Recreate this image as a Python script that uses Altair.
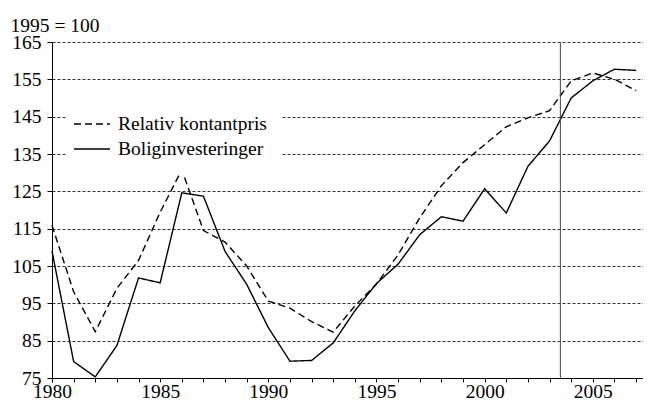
import altair as alt
import pandas as pd

years = list(range(1980, 2008))
kontantpris = [115.9, 98.1, 87.4, 99.0, 106.5, 119.4, 130.8, 114.5, 111.4, 105.0,
               95.6, 93.7, 90.1, 87.3, 94.3, 100.2, 108.0, 117.9, 126.5, 132.7,
               137.5, 142.3, 144.7, 146.6, 154.6, 156.7, 155.0, 152.0]
bolig = [109.0, 79.4, 75.3, 83.7, 101.8, 100.5, 124.6, 123.7, 108.9, 100.1,
         88.5, 79.5, 79.7, 84.4, 93.0, 100.3, 105.5, 113.4, 118.2, 117.0,
         125.7, 119.2, 131.7, 138.5, 150.0, 154.6, 157.7, 157.4]
series = ["Relativ kontantpris", "Boliginvesteringer"]
y_ticks = [75, 85, 95, 105, 115, 125, 135, 145, 155, 165]
marker_year = [2003.5]
y_title = "1995 = 100"

FONT = "Liberation Serif"
FS = 19.5

df = pd.DataFrame({
    "year": years * 2,
    "value": kontantpris + bolig,
    "series": [series[0]] * len(years) + [series[1]] * len(years),
})

xscale = alt.Scale(domain=[1980, 2007.32], nice=False, zero=False)
yscale = alt.Scale(domain=[75, 165], nice=False, zero=False)

x_axis = alt.Axis(values=years, format="d", labelExpr="datum.value % 5 == 0 ? datum.label : ''",
                  grid=False, tickSize=4, tickColor="black", domainColor="black",
                  labelFont=FONT, labelFontSize=FS, labelColor="black", labelPadding=0,
                  labelFlush=False, labelOverlap=False, title=None)
y_axis = alt.Axis(values=y_ticks, grid=True, gridDash=[3, 2], gridColor="#333", gridWidth=1,
                  tickSize=5, tickColor="black", domainColor="black",
                  labelFont=FONT, labelFontSize=FS, labelColor="black", labelPadding=6,
                  labelOverlap=False,
                  title=y_title, titleAngle=0, titleAlign="left", titleBaseline="alphabetic",
                  titleX=-42, titleY=-11, titleFont=FONT, titleFontSize=FS,
                  titleFontWeight="normal", titleColor="black")

lines = alt.Chart(df).mark_line(color="black", strokeWidth=1.4).encode(
    x=alt.X("year:Q", scale=xscale, axis=x_axis),
    y=alt.Y("value:Q", scale=yscale, axis=y_axis),
    strokeDash=alt.StrokeDash(
        "series:N",
        scale=alt.Scale(domain=series, range=[[7, 4], [1, 0]]),
        sort=series,
        legend=alt.Legend(orient="none", legendX=15, legendY=57, title=None,
                          fillColor="white", padding=15, symbolType="M-2,0L2,0",
                          symbolSize=324, symbolStrokeColor="black",
                          symbolStrokeWidth=1.5, labelFont=FONT, labelFontSize=FS,
                          labelColor="black", labelOffset=16, rowPadding=5),
    ),
)

rule = alt.Chart(pd.DataFrame({"year": marker_year})).mark_rule(
    color="#444", strokeWidth=1
).encode(x=alt.X("year:Q", scale=xscale, axis=x_axis))

chart = alt.layer(lines, rule).properties(
    width=591, height=336,
    autosize=alt.AutoSizeParams(type="none"),
    padding={"left": 44, "top": 34, "right": 0, "bottom": 22},
).configure_view(stroke=None)

chart.save("out.html", embed_options={"renderer": "svg", "actions": False})
